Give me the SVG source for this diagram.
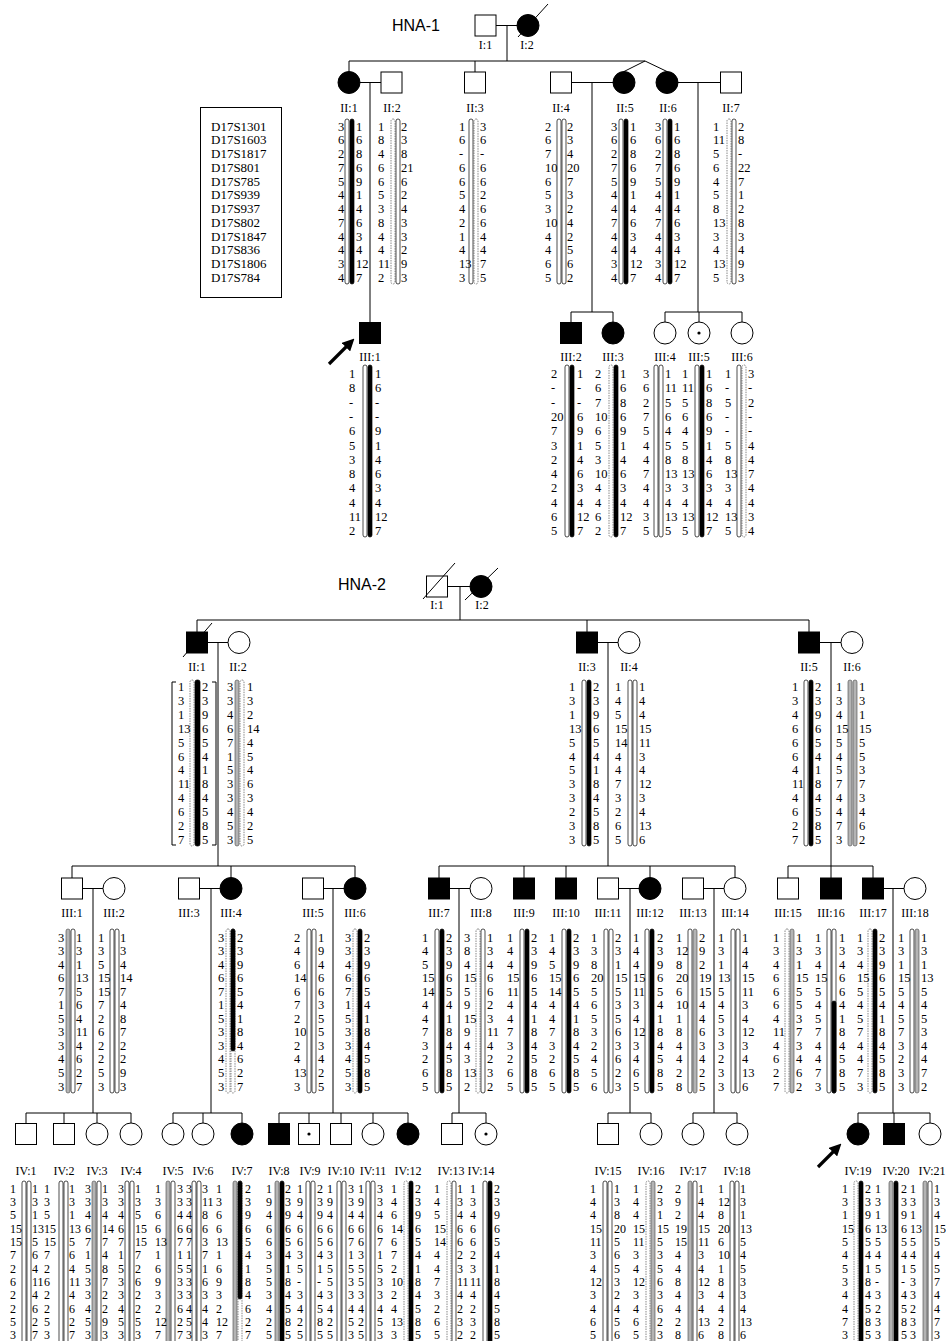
<svg xmlns="http://www.w3.org/2000/svg" width="946" height="1341" viewBox="0 0 946 1341">
<defs>
<style>
text{font-family:"Liberation Serif","Times New Roman",serif;font-size:12.5px;fill:#000}
g[id^="h2-IV"] text{font-size:12px}
.lb{font-size:12px;text-anchor:middle}
.mk{font-size:13px}
.t{font-family:"Liberation Sans",Arial,sans-serif;font-size:16px}
.ln{stroke:#000;stroke-width:1;fill:none}
.ar{stroke:#000;stroke-width:3.2;fill:none}
.o{fill:#fff;stroke:#000;stroke-width:1}
.f{fill:#000;stroke:#000;stroke-width:1}
.w{fill:#fff;stroke:#000;stroke-width:.7}
.b{fill:#000;stroke:#000;stroke-width:.7}
.g{fill:#b4b4b4;stroke:#444;stroke-width:.6}
.d{fill:#fff;stroke:#555;stroke-width:.7;stroke-dasharray:1.5 1}
</style>
<marker id="ah" viewBox="0 0 10 10" refX="6" refY="5" markerWidth="3.8" markerHeight="3.8" orient="auto"><path d="M0,0L10,5L0,10z" fill="#000"/></marker>
</defs>
<rect width="946" height="1341" fill="#fff"/>

<g id="connectors">
<path class="ln" d="M496,25.5H517M507,25.5V61M349,61H645M349,61V71.5M475,61V72M645,61L624,71.5M645,61L667,71.5M360,82.5H381M370,82.5V322.5M572,82.5H613M592,82.5V312M678,82.5H720.5M698,82.5V312M571,312H613M571,312V322.5M613,312V322M665,312H742M665,312V322M699,312V322M742,312V322"/>
<path class="ln" d="M448,586.5H470M460,586.5V620M197,620H809M197,620V632M587,620V632M809,620V632M207,642.5H228M218,642.5V866M597,642.5H618M608,642.5V866M820,642.5H841M831,642.5V866"/>
<path class="ln" d="M72,866H355M72,866V878M231,866V877.5M355,866V877.5M439,866H735M439,866V878M524,866V878M566,866V878M650,866V877.5M735,866V877.5M788,866H873M788,866V878M831,866V878M873,866V878"/>
<path class="ln" d="M82.5,888.5H103M199.5,888.5H220M323.5,888.5H344M449.5,888.5H470M618.5,888.5H639M703.5,888.5H724M883.5,888.5H904M93,888.5V1113M211,888.5V1113M333,888.5V1113M459,888.5V1113M630,888.5V1113M714,888.5V1113M893,888.5V1113"/>
<path class="ln" d="M26,1113H131M173,1113H242M279,1113H408M452,1113H486M608,1113H651M693,1113H737M858,1113H930M26,1113V1123.5M64,1113V1123.5M97,1113V1123M131,1113V1123M173,1113V1123M203,1113V1123M242,1113V1123M279,1113V1123.5M309,1113V1123.5M341,1113V1123.5M373,1113V1123M408,1113V1123M452,1113V1123.5M486,1113V1123M608,1113V1123.5M651,1113V1123M693,1113V1123M737,1113V1123M858,1113V1123M894,1113V1123.5M930,1113V1123"/>
<path class="ar" d="M329,364L351,342" marker-end="url(#ah)"/>
<path class="ar" d="M818,1167L838,1147" marker-end="url(#ah)"/>
</g>

<text class="t" x="392" y="31">HNA-1</text>
<text class="t" x="338" y="590">HNA-2</text>

<g id="legend">
<rect x="200.5" y="107.5" width="81" height="190" fill="#fff" stroke="#000" stroke-width="1"/>
<text class="mk" x="211" y="130.5">D17S1301<tspan x="211" dy="13.75">D17S1603</tspan><tspan x="211" dy="13.75">D17S1817</tspan><tspan x="211" dy="13.75">D17S801</tspan><tspan x="211" dy="13.75">D17S785</tspan><tspan x="211" dy="13.75">D17S939</tspan><tspan x="211" dy="13.75">D17S937</tspan><tspan x="211" dy="13.75">D17S802</tspan><tspan x="211" dy="13.75">D17S1847</tspan><tspan x="211" dy="13.75">D17S836</tspan><tspan x="211" dy="13.75">D17S1806</tspan><tspan x="211" dy="13.75">D17S784</tspan></text>
</g>

<!-- HNA-1 -->
<g id="h1-I1"><rect class="o" x="475" y="15" width="21" height="21"/><text class="lb" x="485.5" y="49">I:1</text></g>
<g id="h1-I2"><circle class="f" cx="528" cy="25.5" r="11"/><path class="ln" d="M518,37L548,4"/><text class="lb" x="527" y="49">I:2</text></g>

<g id="h1-II1"><circle class="f" cx="349" cy="82.5" r="11"/><text class="lb" x="349" y="112">II:1</text>
<rect class="w" x="345" y="119" width="4" height="165" rx="2"/><rect class="b" x="350" y="119" width="4" height="165" rx="2"/>
<text x="338" y="130.5">3<tspan x="338" dy="13.75">6</tspan><tspan x="338" dy="13.75">2</tspan><tspan x="338" dy="13.75">7</tspan><tspan x="338" dy="13.75">5</tspan><tspan x="338" dy="13.75">4</tspan><tspan x="338" dy="13.75">4</tspan><tspan x="338" dy="13.75">7</tspan><tspan x="338" dy="13.75">4</tspan><tspan x="338" dy="13.75">4</tspan><tspan x="338" dy="13.75">3</tspan><tspan x="338" dy="13.75">4</tspan></text>
<text x="356" y="130.5">1<tspan x="356" dy="13.75">6</tspan><tspan x="356" dy="13.75">8</tspan><tspan x="356" dy="13.75">6</tspan><tspan x="356" dy="13.75">9</tspan><tspan x="356" dy="13.75">1</tspan><tspan x="356" dy="13.75">4</tspan><tspan x="356" dy="13.75">6</tspan><tspan x="356" dy="13.75">3</tspan><tspan x="356" dy="13.75">4</tspan><tspan x="356" dy="13.75">12</tspan><tspan x="356" dy="13.75">7</tspan></text></g>

<g id="h1-II2"><rect class="o" x="381" y="72" width="21" height="21"/><text class="lb" x="392" y="112">II:2</text>
<rect class="d" x="391" y="119" width="4" height="165" rx="2"/><rect class="w" x="396" y="119" width="4" height="165" rx="2"/>
<text x="378" y="130.5">1<tspan x="378" dy="13.75">8</tspan><tspan x="378" dy="13.75">4</tspan><tspan x="378" dy="13.75">6</tspan><tspan x="378" dy="13.75">6</tspan><tspan x="378" dy="13.75">5</tspan><tspan x="378" dy="13.75">3</tspan><tspan x="378" dy="13.75">8</tspan><tspan x="378" dy="13.75">4</tspan><tspan x="378" dy="13.75">4</tspan><tspan x="378" dy="13.75">11</tspan><tspan x="378" dy="13.75">2</tspan></text>
<text x="401" y="130.5">2<tspan x="401" dy="13.75">3</tspan><tspan x="401" dy="13.75">8</tspan><tspan x="401" dy="13.75">21</tspan><tspan x="401" dy="13.75">6</tspan><tspan x="401" dy="13.75">2</tspan><tspan x="401" dy="13.75">4</tspan><tspan x="401" dy="13.75">3</tspan><tspan x="401" dy="13.75">3</tspan><tspan x="401" dy="13.75">2</tspan><tspan x="401" dy="13.75">9</tspan><tspan x="401" dy="13.75">3</tspan></text></g>

<g id="h1-II3"><rect class="o" x="464.5" y="72" width="21" height="21"/><text class="lb" x="475" y="112">II:3</text>
<rect class="w" x="469" y="119" width="4" height="165" rx="2"/><rect class="d" x="474" y="119" width="4" height="165" rx="2"/>
<text x="459" y="130.5">1<tspan x="459" dy="13.75">6</tspan><tspan x="459" dy="13.75">-</tspan><tspan x="459" dy="13.75">6</tspan><tspan x="459" dy="13.75">6</tspan><tspan x="459" dy="13.75">5</tspan><tspan x="459" dy="13.75">4</tspan><tspan x="459" dy="13.75">2</tspan><tspan x="459" dy="13.75">1</tspan><tspan x="459" dy="13.75">4</tspan><tspan x="459" dy="13.75">13</tspan><tspan x="459" dy="13.75">3</tspan></text>
<text x="480" y="130.5">3<tspan x="480" dy="13.75">6</tspan><tspan x="480" dy="13.75">-</tspan><tspan x="480" dy="13.75">6</tspan><tspan x="480" dy="13.75">6</tspan><tspan x="480" dy="13.75">2</tspan><tspan x="480" dy="13.75">6</tspan><tspan x="480" dy="13.75">6</tspan><tspan x="480" dy="13.75">4</tspan><tspan x="480" dy="13.75">4</tspan><tspan x="480" dy="13.75">7</tspan><tspan x="480" dy="13.75">5</tspan></text></g>

<g id="h1-II4"><rect class="o" x="550.5" y="72" width="21" height="21"/><text class="lb" x="561" y="112">II:4</text>
<rect class="w" x="557" y="119" width="4" height="165" rx="2"/><rect class="w" x="562" y="119" width="4" height="165" rx="2"/>
<text x="545" y="130.5">2<tspan x="545" dy="13.75">6</tspan><tspan x="545" dy="13.75">7</tspan><tspan x="545" dy="13.75">10</tspan><tspan x="545" dy="13.75">6</tspan><tspan x="545" dy="13.75">5</tspan><tspan x="545" dy="13.75">3</tspan><tspan x="545" dy="13.75">10</tspan><tspan x="545" dy="13.75">4</tspan><tspan x="545" dy="13.75">4</tspan><tspan x="545" dy="13.75">6</tspan><tspan x="545" dy="13.75">5</tspan></text>
<text x="567" y="130.5">2<tspan x="567" dy="13.75">3</tspan><tspan x="567" dy="13.75">4</tspan><tspan x="567" dy="13.75">20</tspan><tspan x="567" dy="13.75">7</tspan><tspan x="567" dy="13.75">3</tspan><tspan x="567" dy="13.75">2</tspan><tspan x="567" dy="13.75">4</tspan><tspan x="567" dy="13.75">2</tspan><tspan x="567" dy="13.75">5</tspan><tspan x="567" dy="13.75">6</tspan><tspan x="567" dy="13.75">2</tspan></text></g>

<g id="h1-II5"><circle class="f" cx="624" cy="82.5" r="11"/><text class="lb" x="625" y="112">II:5</text>
<rect class="w" x="619" y="119" width="4" height="165" rx="2"/><rect class="b" x="624" y="119" width="4" height="165" rx="2"/>
<text x="611" y="130.5">3<tspan x="611" dy="13.75">6</tspan><tspan x="611" dy="13.75">2</tspan><tspan x="611" dy="13.75">7</tspan><tspan x="611" dy="13.75">5</tspan><tspan x="611" dy="13.75">4</tspan><tspan x="611" dy="13.75">4</tspan><tspan x="611" dy="13.75">7</tspan><tspan x="611" dy="13.75">4</tspan><tspan x="611" dy="13.75">4</tspan><tspan x="611" dy="13.75">3</tspan><tspan x="611" dy="13.75">4</tspan></text>
<text x="630" y="130.5">1<tspan x="630" dy="13.75">6</tspan><tspan x="630" dy="13.75">8</tspan><tspan x="630" dy="13.75">6</tspan><tspan x="630" dy="13.75">9</tspan><tspan x="630" dy="13.75">1</tspan><tspan x="630" dy="13.75">4</tspan><tspan x="630" dy="13.75">6</tspan><tspan x="630" dy="13.75">3</tspan><tspan x="630" dy="13.75">4</tspan><tspan x="630" dy="13.75">12</tspan><tspan x="630" dy="13.75">7</tspan></text></g>

<g id="h1-II6"><circle class="f" cx="667" cy="82.5" r="11"/><text class="lb" x="668" y="112">II:6</text>
<rect class="w" x="663" y="119" width="4" height="165" rx="2"/><rect class="b" x="668" y="119" width="4" height="165" rx="2"/>
<text x="655" y="130.5">3<tspan x="655" dy="13.75">6</tspan><tspan x="655" dy="13.75">2</tspan><tspan x="655" dy="13.75">7</tspan><tspan x="655" dy="13.75">5</tspan><tspan x="655" dy="13.75">4</tspan><tspan x="655" dy="13.75">4</tspan><tspan x="655" dy="13.75">7</tspan><tspan x="655" dy="13.75">4</tspan><tspan x="655" dy="13.75">4</tspan><tspan x="655" dy="13.75">3</tspan><tspan x="655" dy="13.75">4</tspan></text>
<text x="674" y="130.5">1<tspan x="674" dy="13.75">6</tspan><tspan x="674" dy="13.75">8</tspan><tspan x="674" dy="13.75">6</tspan><tspan x="674" dy="13.75">9</tspan><tspan x="674" dy="13.75">1</tspan><tspan x="674" dy="13.75">4</tspan><tspan x="674" dy="13.75">6</tspan><tspan x="674" dy="13.75">3</tspan><tspan x="674" dy="13.75">4</tspan><tspan x="674" dy="13.75">12</tspan><tspan x="674" dy="13.75">7</tspan></text></g>

<g id="h1-II7"><rect class="o" x="720.5" y="72" width="21" height="21"/><text class="lb" x="731" y="112">II:7</text>
<rect class="d" x="727" y="119" width="4" height="165" rx="2"/><rect class="w" x="732" y="119" width="4" height="165" rx="2"/>
<text x="713" y="130.5">1<tspan x="713" dy="13.75">11</tspan><tspan x="713" dy="13.75">5</tspan><tspan x="713" dy="13.75">6</tspan><tspan x="713" dy="13.75">4</tspan><tspan x="713" dy="13.75">5</tspan><tspan x="713" dy="13.75">8</tspan><tspan x="713" dy="13.75">13</tspan><tspan x="713" dy="13.75">3</tspan><tspan x="713" dy="13.75">4</tspan><tspan x="713" dy="13.75">13</tspan><tspan x="713" dy="13.75">5</tspan></text>
<text x="738" y="130.5">2<tspan x="738" dy="13.75">8</tspan><tspan x="738" dy="13.75">-</tspan><tspan x="738" dy="13.75">22</tspan><tspan x="738" dy="13.75">7</tspan><tspan x="738" dy="13.75">1</tspan><tspan x="738" dy="13.75">2</tspan><tspan x="738" dy="13.75">8</tspan><tspan x="738" dy="13.75">3</tspan><tspan x="738" dy="13.75">4</tspan><tspan x="738" dy="13.75">9</tspan><tspan x="738" dy="13.75">3</tspan></text></g>

<g id="h1-III1"><rect class="f" x="359.5" y="322.5" width="21" height="21"/><text class="lb" x="370" y="361">III:1</text>
<rect class="w" x="363" y="365" width="4" height="172" rx="2"/><rect class="b" x="368" y="365" width="4" height="172" rx="2"/>
<text x="349" y="378">1<tspan x="349" dy="14.3">8</tspan><tspan x="349" dy="14.3">-</tspan><tspan x="349" dy="14.3">-</tspan><tspan x="349" dy="14.3">6</tspan><tspan x="349" dy="14.3">5</tspan><tspan x="349" dy="14.3">3</tspan><tspan x="349" dy="14.3">8</tspan><tspan x="349" dy="14.3">4</tspan><tspan x="349" dy="14.3">4</tspan><tspan x="349" dy="14.3">11</tspan><tspan x="349" dy="14.3">2</tspan></text>
<text x="375" y="378">1<tspan x="375" dy="14.3">6</tspan><tspan x="375" dy="14.3">-</tspan><tspan x="375" dy="14.3">-</tspan><tspan x="375" dy="14.3">9</tspan><tspan x="375" dy="14.3">1</tspan><tspan x="375" dy="14.3">4</tspan><tspan x="375" dy="14.3">6</tspan><tspan x="375" dy="14.3">3</tspan><tspan x="375" dy="14.3">4</tspan><tspan x="375" dy="14.3">12</tspan><tspan x="375" dy="14.3">7</tspan></text></g>

<g id="h1-III2"><rect class="f" x="560.5" y="322.5" width="21" height="21"/><text class="lb" x="571" y="361">III:2</text>
<rect class="w" x="565" y="365" width="4" height="172" rx="2"/><rect class="b" x="570" y="365" width="4" height="172" rx="2"/>
<text x="551" y="378">2<tspan x="551" dy="14.3">-</tspan><tspan x="551" dy="14.3">-</tspan><tspan x="551" dy="14.3">20</tspan><tspan x="551" dy="14.3">7</tspan><tspan x="551" dy="14.3">3</tspan><tspan x="551" dy="14.3">2</tspan><tspan x="551" dy="14.3">4</tspan><tspan x="551" dy="14.3">2</tspan><tspan x="551" dy="14.3">4</tspan><tspan x="551" dy="14.3">6</tspan><tspan x="551" dy="14.3">5</tspan></text>
<text x="577" y="378">1<tspan x="577" dy="14.3">-</tspan><tspan x="577" dy="14.3">-</tspan><tspan x="577" dy="14.3">6</tspan><tspan x="577" dy="14.3">9</tspan><tspan x="577" dy="14.3">1</tspan><tspan x="577" dy="14.3">4</tspan><tspan x="577" dy="14.3">6</tspan><tspan x="577" dy="14.3">3</tspan><tspan x="577" dy="14.3">4</tspan><tspan x="577" dy="14.3">12</tspan><tspan x="577" dy="14.3">7</tspan></text></g>

<g id="h1-III3"><circle class="f" cx="613" cy="333" r="11"/><text class="lb" x="613" y="361">III:3</text>
<rect class="d" x="609" y="365" width="4" height="172" rx="2"/><rect class="b" x="614" y="365" width="4" height="172" rx="2"/>
<text x="595" y="378">2<tspan x="595" dy="14.3">6</tspan><tspan x="595" dy="14.3">7</tspan><tspan x="595" dy="14.3">10</tspan><tspan x="595" dy="14.3">6</tspan><tspan x="595" dy="14.3">5</tspan><tspan x="595" dy="14.3">3</tspan><tspan x="595" dy="14.3">10</tspan><tspan x="595" dy="14.3">4</tspan><tspan x="595" dy="14.3">4</tspan><tspan x="595" dy="14.3">6</tspan><tspan x="595" dy="14.3">2</tspan></text>
<text x="620" y="378">1<tspan x="620" dy="14.3">6</tspan><tspan x="620" dy="14.3">8</tspan><tspan x="620" dy="14.3">6</tspan><tspan x="620" dy="14.3">9</tspan><tspan x="620" dy="14.3">1</tspan><tspan x="620" dy="14.3">4</tspan><tspan x="620" dy="14.3">6</tspan><tspan x="620" dy="14.3">3</tspan><tspan x="620" dy="14.3">4</tspan><tspan x="620" dy="14.3">12</tspan><tspan x="620" dy="14.3">7</tspan></text></g>

<g id="h1-III4"><circle class="o" cx="665" cy="333" r="11"/><text class="lb" x="665" y="361">III:4</text>
<rect class="w" x="654" y="365" width="4" height="172" rx="2"/><rect class="w" x="659" y="365" width="4" height="172" rx="2"/>
<text x="643" y="378">3<tspan x="643" dy="14.3">6</tspan><tspan x="643" dy="14.3">2</tspan><tspan x="643" dy="14.3">7</tspan><tspan x="643" dy="14.3">5</tspan><tspan x="643" dy="14.3">4</tspan><tspan x="643" dy="14.3">4</tspan><tspan x="643" dy="14.3">7</tspan><tspan x="643" dy="14.3">4</tspan><tspan x="643" dy="14.3">4</tspan><tspan x="643" dy="14.3">3</tspan><tspan x="643" dy="14.3">5</tspan></text>
<text x="665" y="378">1<tspan x="665" dy="14.3">11</tspan><tspan x="665" dy="14.3">5</tspan><tspan x="665" dy="14.3">6</tspan><tspan x="665" dy="14.3">4</tspan><tspan x="665" dy="14.3">5</tspan><tspan x="665" dy="14.3">8</tspan><tspan x="665" dy="14.3">13</tspan><tspan x="665" dy="14.3">3</tspan><tspan x="665" dy="14.3">4</tspan><tspan x="665" dy="14.3">13</tspan><tspan x="665" dy="14.3">5</tspan></text></g>

<g id="h1-III5"><circle class="o" cx="699" cy="333" r="11"/><circle cx="699" cy="333" r="1.6"/><text class="lb" x="699" y="361">III:5</text>
<rect class="w" x="695" y="365" width="4" height="172" rx="2"/><rect class="b" x="700" y="365" width="4" height="172" rx="2"/>
<text x="682" y="378">1<tspan x="682" dy="14.3">11</tspan><tspan x="682" dy="14.3">5</tspan><tspan x="682" dy="14.3">6</tspan><tspan x="682" dy="14.3">4</tspan><tspan x="682" dy="14.3">5</tspan><tspan x="682" dy="14.3">8</tspan><tspan x="682" dy="14.3">13</tspan><tspan x="682" dy="14.3">3</tspan><tspan x="682" dy="14.3">4</tspan><tspan x="682" dy="14.3">13</tspan><tspan x="682" dy="14.3">5</tspan></text>
<text x="706" y="378">1<tspan x="706" dy="14.3">6</tspan><tspan x="706" dy="14.3">8</tspan><tspan x="706" dy="14.3">6</tspan><tspan x="706" dy="14.3">9</tspan><tspan x="706" dy="14.3">1</tspan><tspan x="706" dy="14.3">4</tspan><tspan x="706" dy="14.3">6</tspan><tspan x="706" dy="14.3">3</tspan><tspan x="706" dy="14.3">4</tspan><tspan x="706" dy="14.3">12</tspan><tspan x="706" dy="14.3">7</tspan></text></g>

<g id="h1-III6"><circle class="o" cx="742" cy="333" r="11"/><text class="lb" x="742" y="361">III:6</text>
<rect class="w" x="737" y="365" width="4" height="172" rx="2"/><rect class="d" x="742" y="365" width="4" height="172" rx="2"/>
<text x="725" y="378">1<tspan x="725" dy="14.3">-</tspan><tspan x="725" dy="14.3">5</tspan><tspan x="725" dy="14.3">-</tspan><tspan x="725" dy="14.3">-</tspan><tspan x="725" dy="14.3">5</tspan><tspan x="725" dy="14.3">8</tspan><tspan x="725" dy="14.3">13</tspan><tspan x="725" dy="14.3">3</tspan><tspan x="725" dy="14.3">4</tspan><tspan x="725" dy="14.3">13</tspan><tspan x="725" dy="14.3">5</tspan></text>
<text x="748" y="378">3<tspan x="748" dy="14.3">-</tspan><tspan x="748" dy="14.3">2</tspan><tspan x="748" dy="14.3">-</tspan><tspan x="748" dy="14.3">-</tspan><tspan x="748" dy="14.3">4</tspan><tspan x="748" dy="14.3">4</tspan><tspan x="748" dy="14.3">7</tspan><tspan x="748" dy="14.3">4</tspan><tspan x="748" dy="14.3">4</tspan><tspan x="748" dy="14.3">3</tspan><tspan x="748" dy="14.3">4</tspan></text></g>

<!-- HNA-2 -->
<g id="h2-I1"><rect class="o" x="426.5" y="576" width="21" height="21"/><path class="ln" d="M423,599L455,563"/><text class="lb" x="437" y="609">I:1</text></g>
<g id="h2-I2"><circle class="f" cx="481" cy="586.5" r="11"/><path class="ln" d="M465,600L498,568"/><text class="lb" x="482" y="609">I:2</text></g>

<g id="h2-II1"><rect class="f" x="186.5" y="632" width="21" height="21"/><path class="ln" d="M183,657L212,623"/><text class="lb" x="197" y="671">II:1</text>
<path class="ln" d="M176,682H172V845H176M212,682H216V845H212"/>
<rect class="d" x="190" y="680" width="4" height="166" rx="2"/><rect class="b" x="195" y="680" width="5" height="166" rx="2"/>
<text x="178" y="691">1<tspan x="178" dy="13.9">3</tspan><tspan x="178" dy="13.9">1</tspan><tspan x="178" dy="13.9">13</tspan><tspan x="178" dy="13.9">5</tspan><tspan x="178" dy="13.9">6</tspan><tspan x="178" dy="13.9">4</tspan><tspan x="178" dy="13.9">11</tspan><tspan x="178" dy="13.9">4</tspan><tspan x="178" dy="13.9">6</tspan><tspan x="178" dy="13.9">2</tspan><tspan x="178" dy="13.9">7</tspan></text>
<text x="202" y="691">2<tspan x="202" dy="13.9">3</tspan><tspan x="202" dy="13.9">9</tspan><tspan x="202" dy="13.9">6</tspan><tspan x="202" dy="13.9">5</tspan><tspan x="202" dy="13.9">4</tspan><tspan x="202" dy="13.9">1</tspan><tspan x="202" dy="13.9">8</tspan><tspan x="202" dy="13.9">4</tspan><tspan x="202" dy="13.9">5</tspan><tspan x="202" dy="13.9">8</tspan><tspan x="202" dy="13.9">5</tspan></text></g>

<g id="h2-II2"><circle class="o" cx="239" cy="642.5" r="11"/><text class="lb" x="238" y="671">II:2</text>
<rect class="g" x="235" y="680" width="4" height="166" rx="2"/><rect class="d" x="240" y="680" width="4" height="166" rx="2"/>
<text x="227" y="691">3<tspan x="227" dy="13.9">3</tspan><tspan x="227" dy="13.9">4</tspan><tspan x="227" dy="13.9">6</tspan><tspan x="227" dy="13.9">7</tspan><tspan x="227" dy="13.9">1</tspan><tspan x="227" dy="13.9">5</tspan><tspan x="227" dy="13.9">3</tspan><tspan x="227" dy="13.9">3</tspan><tspan x="227" dy="13.9">4</tspan><tspan x="227" dy="13.9">5</tspan><tspan x="227" dy="13.9">3</tspan></text>
<text x="247" y="691">1<tspan x="247" dy="13.9">3</tspan><tspan x="247" dy="13.9">2</tspan><tspan x="247" dy="13.9">14</tspan><tspan x="247" dy="13.9">4</tspan><tspan x="247" dy="13.9">5</tspan><tspan x="247" dy="13.9">4</tspan><tspan x="247" dy="13.9">6</tspan><tspan x="247" dy="13.9">3</tspan><tspan x="247" dy="13.9">4</tspan><tspan x="247" dy="13.9">2</tspan><tspan x="247" dy="13.9">5</tspan></text></g>

<g id="h2-II3"><rect class="f" x="576.5" y="632" width="21" height="21"/><text class="lb" x="587" y="671">II:3</text>
<rect class="w" x="582" y="680" width="4" height="166" rx="2"/><rect class="b" x="587" y="680" width="4" height="166" rx="2"/>
<text x="569" y="691">1<tspan x="569" dy="13.9">3</tspan><tspan x="569" dy="13.9">1</tspan><tspan x="569" dy="13.9">13</tspan><tspan x="569" dy="13.9">5</tspan><tspan x="569" dy="13.9">4</tspan><tspan x="569" dy="13.9">5</tspan><tspan x="569" dy="13.9">3</tspan><tspan x="569" dy="13.9">3</tspan><tspan x="569" dy="13.9">2</tspan><tspan x="569" dy="13.9">3</tspan><tspan x="569" dy="13.9">3</tspan></text>
<text x="593" y="691">2<tspan x="593" dy="13.9">3</tspan><tspan x="593" dy="13.9">9</tspan><tspan x="593" dy="13.9">6</tspan><tspan x="593" dy="13.9">5</tspan><tspan x="593" dy="13.9">4</tspan><tspan x="593" dy="13.9">1</tspan><tspan x="593" dy="13.9">8</tspan><tspan x="593" dy="13.9">4</tspan><tspan x="593" dy="13.9">5</tspan><tspan x="593" dy="13.9">8</tspan><tspan x="593" dy="13.9">5</tspan></text></g>

<g id="h2-II4"><circle class="o" cx="629" cy="642.5" r="11"/><text class="lb" x="629" y="671">II:4</text>
<rect class="w" x="628" y="680" width="4" height="166" rx="2"/><rect class="w" x="633" y="680" width="4" height="166" rx="2"/>
<text x="615" y="691">1<tspan x="615" dy="13.9">4</tspan><tspan x="615" dy="13.9">5</tspan><tspan x="615" dy="13.9">15</tspan><tspan x="615" dy="13.9">14</tspan><tspan x="615" dy="13.9">4</tspan><tspan x="615" dy="13.9">4</tspan><tspan x="615" dy="13.9">7</tspan><tspan x="615" dy="13.9">3</tspan><tspan x="615" dy="13.9">2</tspan><tspan x="615" dy="13.9">6</tspan><tspan x="615" dy="13.9">5</tspan></text>
<text x="639" y="691">1<tspan x="639" dy="13.9">4</tspan><tspan x="639" dy="13.9">4</tspan><tspan x="639" dy="13.9">15</tspan><tspan x="639" dy="13.9">11</tspan><tspan x="639" dy="13.9">3</tspan><tspan x="639" dy="13.9">4</tspan><tspan x="639" dy="13.9">12</tspan><tspan x="639" dy="13.9">3</tspan><tspan x="639" dy="13.9">4</tspan><tspan x="639" dy="13.9">13</tspan><tspan x="639" dy="13.9">6</tspan></text></g>

<g id="h2-II5"><rect class="f" x="798.5" y="632" width="21" height="21"/><text class="lb" x="809" y="671">II:5</text>
<rect class="w" x="804" y="680" width="4" height="166" rx="2"/><rect class="b" x="809" y="680" width="4" height="166" rx="2"/>
<text x="792" y="691">1<tspan x="792" dy="13.9">3</tspan><tspan x="792" dy="13.9">4</tspan><tspan x="792" dy="13.9">6</tspan><tspan x="792" dy="13.9">6</tspan><tspan x="792" dy="13.9">6</tspan><tspan x="792" dy="13.9">4</tspan><tspan x="792" dy="13.9">11</tspan><tspan x="792" dy="13.9">4</tspan><tspan x="792" dy="13.9">6</tspan><tspan x="792" dy="13.9">2</tspan><tspan x="792" dy="13.9">7</tspan></text>
<text x="815" y="691">2<tspan x="815" dy="13.9">3</tspan><tspan x="815" dy="13.9">9</tspan><tspan x="815" dy="13.9">6</tspan><tspan x="815" dy="13.9">5</tspan><tspan x="815" dy="13.9">4</tspan><tspan x="815" dy="13.9">1</tspan><tspan x="815" dy="13.9">8</tspan><tspan x="815" dy="13.9">4</tspan><tspan x="815" dy="13.9">5</tspan><tspan x="815" dy="13.9">8</tspan><tspan x="815" dy="13.9">5</tspan></text></g>

<g id="h2-II6"><circle class="o" cx="852" cy="642.5" r="11"/><text class="lb" x="852" y="671">II:6</text>
<rect class="g" x="848" y="680" width="4" height="166" rx="2"/><rect class="g" x="853" y="680" width="4" height="166" rx="2"/>
<text x="836" y="691">1<tspan x="836" dy="13.9">3</tspan><tspan x="836" dy="13.9">4</tspan><tspan x="836" dy="13.9">15</tspan><tspan x="836" dy="13.9">5</tspan><tspan x="836" dy="13.9">4</tspan><tspan x="836" dy="13.9">5</tspan><tspan x="836" dy="13.9">7</tspan><tspan x="836" dy="13.9">4</tspan><tspan x="836" dy="13.9">4</tspan><tspan x="836" dy="13.9">7</tspan><tspan x="836" dy="13.9">3</tspan></text>
<text x="859" y="691">1<tspan x="859" dy="13.9">3</tspan><tspan x="859" dy="13.9">1</tspan><tspan x="859" dy="13.9">15</tspan><tspan x="859" dy="13.9">5</tspan><tspan x="859" dy="13.9">5</tspan><tspan x="859" dy="13.9">3</tspan><tspan x="859" dy="13.9">7</tspan><tspan x="859" dy="13.9">3</tspan><tspan x="859" dy="13.9">4</tspan><tspan x="859" dy="13.9">6</tspan><tspan x="859" dy="13.9">2</tspan></text></g>

<!-- HNA-2 generation III -->
<g id="h2-III1"><rect class="o" x="61.5" y="878" width="21" height="21"/><text class="lb" x="72" y="917">III:1</text>
<rect class="g" x="66" y="929" width="4" height="164" rx="2"/><rect class="w" x="71" y="929" width="4" height="164" rx="2"/>
<text x="58" y="941.5">3<tspan x="58" dy="13.55">3</tspan><tspan x="58" dy="13.55">4</tspan><tspan x="58" dy="13.55">6</tspan><tspan x="58" dy="13.55">7</tspan><tspan x="58" dy="13.55">1</tspan><tspan x="58" dy="13.55">5</tspan><tspan x="58" dy="13.55">3</tspan><tspan x="58" dy="13.55">3</tspan><tspan x="58" dy="13.55">4</tspan><tspan x="58" dy="13.55">5</tspan><tspan x="58" dy="13.55">3</tspan></text>
<text x="76" y="941.5">1<tspan x="76" dy="13.55">3</tspan><tspan x="76" dy="13.55">1</tspan><tspan x="76" dy="13.55">13</tspan><tspan x="76" dy="13.55">5</tspan><tspan x="76" dy="13.55">6</tspan><tspan x="76" dy="13.55">4</tspan><tspan x="76" dy="13.55">11</tspan><tspan x="76" dy="13.55">4</tspan><tspan x="76" dy="13.55">6</tspan><tspan x="76" dy="13.55">2</tspan><tspan x="76" dy="13.55">7</tspan></text></g>

<g id="h2-III2"><circle class="o" cx="114" cy="888.5" r="11"/><text class="lb" x="114" y="917">III:2</text>
<rect class="w" x="110" y="929" width="4" height="164" rx="2"/><rect class="w" x="115" y="929" width="4" height="164" rx="2"/>
<text x="98" y="941.5">1<tspan x="98" dy="13.55">3</tspan><tspan x="98" dy="13.55">5</tspan><tspan x="98" dy="13.55">15</tspan><tspan x="98" dy="13.55">15</tspan><tspan x="98" dy="13.55">7</tspan><tspan x="98" dy="13.55">2</tspan><tspan x="98" dy="13.55">6</tspan><tspan x="98" dy="13.55">2</tspan><tspan x="98" dy="13.55">2</tspan><tspan x="98" dy="13.55">5</tspan><tspan x="98" dy="13.55">3</tspan></text>
<text x="120" y="941.5">1<tspan x="120" dy="13.55">3</tspan><tspan x="120" dy="13.55">4</tspan><tspan x="120" dy="13.55">14</tspan><tspan x="120" dy="13.55">7</tspan><tspan x="120" dy="13.55">4</tspan><tspan x="120" dy="13.55">8</tspan><tspan x="120" dy="13.55">7</tspan><tspan x="120" dy="13.55">2</tspan><tspan x="120" dy="13.55">2</tspan><tspan x="120" dy="13.55">9</tspan><tspan x="120" dy="13.55">3</tspan></text></g>

<g id="h2-III3"><rect class="o" x="178.5" y="878" width="21" height="21"/><text class="lb" x="189" y="917">III:3</text></g>

<g id="h2-III4"><circle class="f" cx="231" cy="888.5" r="11"/><text class="lb" x="231" y="917">III:4</text>
<rect class="d" x="226" y="929" width="4" height="164" rx="2"/><rect class="d" x="231" y="929" width="4" height="164" rx="2"/><rect class="b" x="231" y="929" width="4" height="122" rx="2"/>
<text x="218" y="941.5">3<tspan x="218" dy="13.55">3</tspan><tspan x="218" dy="13.55">4</tspan><tspan x="218" dy="13.55">6</tspan><tspan x="218" dy="13.55">7</tspan><tspan x="218" dy="13.55">1</tspan><tspan x="218" dy="13.55">5</tspan><tspan x="218" dy="13.55">3</tspan><tspan x="218" dy="13.55">3</tspan><tspan x="218" dy="13.55">4</tspan><tspan x="218" dy="13.55">5</tspan><tspan x="218" dy="13.55">3</tspan></text>
<text x="237" y="941.5">2<tspan x="237" dy="13.55">3</tspan><tspan x="237" dy="13.55">9</tspan><tspan x="237" dy="13.55">6</tspan><tspan x="237" dy="13.55">5</tspan><tspan x="237" dy="13.55">4</tspan><tspan x="237" dy="13.55">1</tspan><tspan x="237" dy="13.55">8</tspan><tspan x="237" dy="13.55">4</tspan><tspan x="237" dy="13.55">6</tspan><tspan x="237" dy="13.55">2</tspan><tspan x="237" dy="13.55">7</tspan></text></g>

<g id="h2-III5"><rect class="o" x="302.5" y="878" width="21" height="21"/><text class="lb" x="313" y="917">III:5</text>
<rect class="w" x="307" y="929" width="4" height="164" rx="2"/><rect class="w" x="312" y="929" width="4" height="164" rx="2"/>
<text x="294" y="941.5">2<tspan x="294" dy="13.55">4</tspan><tspan x="294" dy="13.55">6</tspan><tspan x="294" dy="13.55">14</tspan><tspan x="294" dy="13.55">6</tspan><tspan x="294" dy="13.55">7</tspan><tspan x="294" dy="13.55">2</tspan><tspan x="294" dy="13.55">10</tspan><tspan x="294" dy="13.55">2</tspan><tspan x="294" dy="13.55">4</tspan><tspan x="294" dy="13.55">13</tspan><tspan x="294" dy="13.55">3</tspan></text>
<text x="318" y="941.5">1<tspan x="318" dy="13.55">9</tspan><tspan x="318" dy="13.55">4</tspan><tspan x="318" dy="13.55">6</tspan><tspan x="318" dy="13.55">6</tspan><tspan x="318" dy="13.55">3</tspan><tspan x="318" dy="13.55">5</tspan><tspan x="318" dy="13.55">5</tspan><tspan x="318" dy="13.55">3</tspan><tspan x="318" dy="13.55">4</tspan><tspan x="318" dy="13.55">2</tspan><tspan x="318" dy="13.55">5</tspan></text></g>

<g id="h2-III6"><circle class="f" cx="355" cy="888.5" r="11"/><text class="lb" x="355" y="917">III:6</text>
<rect class="d" x="353" y="929" width="4" height="164" rx="2"/><rect class="b" x="358" y="929" width="4" height="164" rx="2"/>
<text x="345" y="941.5">3<tspan x="345" dy="13.55">3</tspan><tspan x="345" dy="13.55">4</tspan><tspan x="345" dy="13.55">6</tspan><tspan x="345" dy="13.55">7</tspan><tspan x="345" dy="13.55">1</tspan><tspan x="345" dy="13.55">5</tspan><tspan x="345" dy="13.55">3</tspan><tspan x="345" dy="13.55">3</tspan><tspan x="345" dy="13.55">4</tspan><tspan x="345" dy="13.55">5</tspan><tspan x="345" dy="13.55">3</tspan></text>
<text x="364" y="941.5">2<tspan x="364" dy="13.55">3</tspan><tspan x="364" dy="13.55">9</tspan><tspan x="364" dy="13.55">6</tspan><tspan x="364" dy="13.55">5</tspan><tspan x="364" dy="13.55">4</tspan><tspan x="364" dy="13.55">1</tspan><tspan x="364" dy="13.55">8</tspan><tspan x="364" dy="13.55">4</tspan><tspan x="364" dy="13.55">5</tspan><tspan x="364" dy="13.55">8</tspan><tspan x="364" dy="13.55">5</tspan></text></g>

<g id="h2-III7"><rect class="f" x="428.5" y="878" width="21" height="21"/><text class="lb" x="439" y="917">III:7</text>
<rect class="w" x="435" y="929" width="4" height="164" rx="2"/><rect class="b" x="440" y="929" width="4" height="164" rx="2"/>
<text x="422" y="941.5">1<tspan x="422" dy="13.55">4</tspan><tspan x="422" dy="13.55">5</tspan><tspan x="422" dy="13.55">15</tspan><tspan x="422" dy="13.55">14</tspan><tspan x="422" dy="13.55">4</tspan><tspan x="422" dy="13.55">4</tspan><tspan x="422" dy="13.55">7</tspan><tspan x="422" dy="13.55">3</tspan><tspan x="422" dy="13.55">2</tspan><tspan x="422" dy="13.55">6</tspan><tspan x="422" dy="13.55">5</tspan></text>
<text x="446" y="941.5">2<tspan x="446" dy="13.55">3</tspan><tspan x="446" dy="13.55">9</tspan><tspan x="446" dy="13.55">6</tspan><tspan x="446" dy="13.55">5</tspan><tspan x="446" dy="13.55">4</tspan><tspan x="446" dy="13.55">1</tspan><tspan x="446" dy="13.55">8</tspan><tspan x="446" dy="13.55">4</tspan><tspan x="446" dy="13.55">5</tspan><tspan x="446" dy="13.55">8</tspan><tspan x="446" dy="13.55">5</tspan></text></g>

<g id="h2-III8"><circle class="o" cx="481" cy="888.5" r="11"/><text class="lb" x="481" y="917">III:8</text>
<rect class="d" x="476" y="929" width="4" height="164" rx="2"/><rect class="w" x="481" y="929" width="4" height="164" rx="2"/>
<text x="464" y="941.5">3<tspan x="464" dy="13.55">8</tspan><tspan x="464" dy="13.55">4</tspan><tspan x="464" dy="13.55">15</tspan><tspan x="464" dy="13.55">5</tspan><tspan x="464" dy="13.55">9</tspan><tspan x="464" dy="13.55">15</tspan><tspan x="464" dy="13.55">9</tspan><tspan x="464" dy="13.55">4</tspan><tspan x="464" dy="13.55">3</tspan><tspan x="464" dy="13.55">13</tspan><tspan x="464" dy="13.55">2</tspan></text>
<text x="487" y="941.5">1<tspan x="487" dy="13.55">3</tspan><tspan x="487" dy="13.55">4</tspan><tspan x="487" dy="13.55">6</tspan><tspan x="487" dy="13.55">6</tspan><tspan x="487" dy="13.55">2</tspan><tspan x="487" dy="13.55">3</tspan><tspan x="487" dy="13.55">11</tspan><tspan x="487" dy="13.55">4</tspan><tspan x="487" dy="13.55">2</tspan><tspan x="487" dy="13.55">3</tspan><tspan x="487" dy="13.55">2</tspan></text></g>

<g id="h2-III9"><rect class="f" x="513.5" y="878" width="21" height="21"/><text class="lb" x="524" y="917">III:9</text>
<rect class="w" x="520" y="929" width="4" height="164" rx="2"/><rect class="b" x="525" y="929" width="4" height="164" rx="2"/>
<text x="507" y="941.5">1<tspan x="507" dy="13.55">4</tspan><tspan x="507" dy="13.55">4</tspan><tspan x="507" dy="13.55">15</tspan><tspan x="507" dy="13.55">11</tspan><tspan x="507" dy="13.55">4</tspan><tspan x="507" dy="13.55">4</tspan><tspan x="507" dy="13.55">7</tspan><tspan x="507" dy="13.55">3</tspan><tspan x="507" dy="13.55">2</tspan><tspan x="507" dy="13.55">6</tspan><tspan x="507" dy="13.55">5</tspan></text>
<text x="531" y="941.5">2<tspan x="531" dy="13.55">3</tspan><tspan x="531" dy="13.55">9</tspan><tspan x="531" dy="13.55">6</tspan><tspan x="531" dy="13.55">5</tspan><tspan x="531" dy="13.55">4</tspan><tspan x="531" dy="13.55">1</tspan><tspan x="531" dy="13.55">8</tspan><tspan x="531" dy="13.55">4</tspan><tspan x="531" dy="13.55">5</tspan><tspan x="531" dy="13.55">8</tspan><tspan x="531" dy="13.55">5</tspan></text></g>

<g id="h2-III10"><rect class="f" x="555.5" y="878" width="21" height="21"/><text class="lb" x="566" y="917">III:10</text>
<rect class="w" x="562" y="929" width="4" height="164" rx="2"/><rect class="b" x="567" y="929" width="4" height="164" rx="2"/>
<text x="549" y="941.5">1<tspan x="549" dy="13.55">4</tspan><tspan x="549" dy="13.55">5</tspan><tspan x="549" dy="13.55">15</tspan><tspan x="549" dy="13.55">14</tspan><tspan x="549" dy="13.55">4</tspan><tspan x="549" dy="13.55">4</tspan><tspan x="549" dy="13.55">7</tspan><tspan x="549" dy="13.55">3</tspan><tspan x="549" dy="13.55">2</tspan><tspan x="549" dy="13.55">6</tspan><tspan x="549" dy="13.55">5</tspan></text>
<text x="573" y="941.5">2<tspan x="573" dy="13.55">3</tspan><tspan x="573" dy="13.55">9</tspan><tspan x="573" dy="13.55">6</tspan><tspan x="573" dy="13.55">5</tspan><tspan x="573" dy="13.55">4</tspan><tspan x="573" dy="13.55">1</tspan><tspan x="573" dy="13.55">8</tspan><tspan x="573" dy="13.55">4</tspan><tspan x="573" dy="13.55">5</tspan><tspan x="573" dy="13.55">8</tspan><tspan x="573" dy="13.55">5</tspan></text></g>

<g id="h2-III11"><rect class="o" x="597.5" y="878" width="21" height="21"/><text class="lb" x="608" y="917">III:11</text>
<rect class="w" x="604" y="929" width="4" height="164" rx="2"/><rect class="w" x="609" y="929" width="4" height="164" rx="2"/>
<text x="591" y="941.5">1<tspan x="591" dy="13.55">3</tspan><tspan x="591" dy="13.55">8</tspan><tspan x="591" dy="13.55">20</tspan><tspan x="591" dy="13.55">5</tspan><tspan x="591" dy="13.55">6</tspan><tspan x="591" dy="13.55">5</tspan><tspan x="591" dy="13.55">3</tspan><tspan x="591" dy="13.55">2</tspan><tspan x="591" dy="13.55">4</tspan><tspan x="591" dy="13.55">5</tspan><tspan x="591" dy="13.55">6</tspan></text>
<text x="615" y="941.5">2<tspan x="615" dy="13.55">3</tspan><tspan x="615" dy="13.55">1</tspan><tspan x="615" dy="13.55">15</tspan><tspan x="615" dy="13.55">5</tspan><tspan x="615" dy="13.55">3</tspan><tspan x="615" dy="13.55">5</tspan><tspan x="615" dy="13.55">6</tspan><tspan x="615" dy="13.55">3</tspan><tspan x="615" dy="13.55">6</tspan><tspan x="615" dy="13.55">2</tspan><tspan x="615" dy="13.55">3</tspan></text></g>

<g id="h2-III12"><circle class="f" cx="650" cy="888.5" r="11"/><text class="lb" x="650" y="917">III:12</text>
<rect class="w" x="645" y="929" width="4" height="164" rx="2"/><rect class="b" x="650" y="929" width="4" height="164" rx="2"/>
<text x="633" y="941.5">1<tspan x="633" dy="13.55">4</tspan><tspan x="633" dy="13.55">4</tspan><tspan x="633" dy="13.55">15</tspan><tspan x="633" dy="13.55">11</tspan><tspan x="633" dy="13.55">3</tspan><tspan x="633" dy="13.55">4</tspan><tspan x="633" dy="13.55">12</tspan><tspan x="633" dy="13.55">3</tspan><tspan x="633" dy="13.55">4</tspan><tspan x="633" dy="13.55">6</tspan><tspan x="633" dy="13.55">5</tspan></text>
<text x="657" y="941.5">2<tspan x="657" dy="13.55">3</tspan><tspan x="657" dy="13.55">9</tspan><tspan x="657" dy="13.55">6</tspan><tspan x="657" dy="13.55">5</tspan><tspan x="657" dy="13.55">4</tspan><tspan x="657" dy="13.55">1</tspan><tspan x="657" dy="13.55">8</tspan><tspan x="657" dy="13.55">4</tspan><tspan x="657" dy="13.55">5</tspan><tspan x="657" dy="13.55">8</tspan><tspan x="657" dy="13.55">5</tspan></text></g>

<g id="h2-III13"><rect class="o" x="682.5" y="878" width="21" height="21"/><text class="lb" x="693" y="917">III:13</text>
<rect class="w" x="688" y="929" width="4" height="164" rx="2"/><rect class="g" x="693" y="929" width="4" height="164" rx="2"/>
<text x="676" y="941.5">1<tspan x="676" dy="13.55">12</tspan><tspan x="676" dy="13.55">8</tspan><tspan x="676" dy="13.55">20</tspan><tspan x="676" dy="13.55">6</tspan><tspan x="676" dy="13.55">10</tspan><tspan x="676" dy="13.55">1</tspan><tspan x="676" dy="13.55">8</tspan><tspan x="676" dy="13.55">4</tspan><tspan x="676" dy="13.55">4</tspan><tspan x="676" dy="13.55">2</tspan><tspan x="676" dy="13.55">8</tspan></text>
<text x="699" y="941.5">2<tspan x="699" dy="13.55">9</tspan><tspan x="699" dy="13.55">2</tspan><tspan x="699" dy="13.55">19</tspan><tspan x="699" dy="13.55">15</tspan><tspan x="699" dy="13.55">4</tspan><tspan x="699" dy="13.55">4</tspan><tspan x="699" dy="13.55">6</tspan><tspan x="699" dy="13.55">3</tspan><tspan x="699" dy="13.55">4</tspan><tspan x="699" dy="13.55">2</tspan><tspan x="699" dy="13.55">5</tspan></text></g>

<g id="h2-III14"><circle class="o" cx="735" cy="888.5" r="11"/><text class="lb" x="735" y="917">III:14</text>
<rect class="w" x="731" y="929" width="4" height="164" rx="2"/><rect class="w" x="736" y="929" width="4" height="164" rx="2"/>
<text x="718" y="941.5">1<tspan x="718" dy="13.55">3</tspan><tspan x="718" dy="13.55">1</tspan><tspan x="718" dy="13.55">13</tspan><tspan x="718" dy="13.55">5</tspan><tspan x="718" dy="13.55">4</tspan><tspan x="718" dy="13.55">5</tspan><tspan x="718" dy="13.55">3</tspan><tspan x="718" dy="13.55">3</tspan><tspan x="718" dy="13.55">2</tspan><tspan x="718" dy="13.55">3</tspan><tspan x="718" dy="13.55">3</tspan></text>
<text x="742" y="941.5">1<tspan x="742" dy="13.55">4</tspan><tspan x="742" dy="13.55">4</tspan><tspan x="742" dy="13.55">15</tspan><tspan x="742" dy="13.55">11</tspan><tspan x="742" dy="13.55">3</tspan><tspan x="742" dy="13.55">4</tspan><tspan x="742" dy="13.55">12</tspan><tspan x="742" dy="13.55">3</tspan><tspan x="742" dy="13.55">4</tspan><tspan x="742" dy="13.55">13</tspan><tspan x="742" dy="13.55">6</tspan></text></g>

<g id="h2-III15"><rect class="o" x="777.5" y="878" width="21" height="21"/><text class="lb" x="788" y="917">III:15</text>
<rect class="d" x="785" y="929" width="4" height="164" rx="2"/><rect class="g" x="790" y="929" width="4" height="164" rx="2"/>
<text x="773" y="941.5">1<tspan x="773" dy="13.55">3</tspan><tspan x="773" dy="13.55">4</tspan><tspan x="773" dy="13.55">6</tspan><tspan x="773" dy="13.55">6</tspan><tspan x="773" dy="13.55">6</tspan><tspan x="773" dy="13.55">4</tspan><tspan x="773" dy="13.55">11</tspan><tspan x="773" dy="13.55">4</tspan><tspan x="773" dy="13.55">6</tspan><tspan x="773" dy="13.55">2</tspan><tspan x="773" dy="13.55">7</tspan></text>
<text x="796" y="941.5">1<tspan x="796" dy="13.55">3</tspan><tspan x="796" dy="13.55">1</tspan><tspan x="796" dy="13.55">15</tspan><tspan x="796" dy="13.55">5</tspan><tspan x="796" dy="13.55">5</tspan><tspan x="796" dy="13.55">3</tspan><tspan x="796" dy="13.55">7</tspan><tspan x="796" dy="13.55">3</tspan><tspan x="796" dy="13.55">4</tspan><tspan x="796" dy="13.55">6</tspan><tspan x="796" dy="13.55">2</tspan></text></g>

<g id="h2-III16"><rect class="f" x="820.5" y="878" width="21" height="21"/><text class="lb" x="831" y="917">III:16</text>
<rect class="w" x="827" y="929" width="4" height="164" rx="2"/><rect class="w" x="832" y="929" width="4" height="164" rx="2"/><rect class="b" x="832" y="1001" width="4" height="92" rx="2"/>
<text x="815" y="941.5">1<tspan x="815" dy="13.55">3</tspan><tspan x="815" dy="13.55">4</tspan><tspan x="815" dy="13.55">15</tspan><tspan x="815" dy="13.55">5</tspan><tspan x="815" dy="13.55">4</tspan><tspan x="815" dy="13.55">5</tspan><tspan x="815" dy="13.55">7</tspan><tspan x="815" dy="13.55">4</tspan><tspan x="815" dy="13.55">4</tspan><tspan x="815" dy="13.55">7</tspan><tspan x="815" dy="13.55">3</tspan></text>
<text x="839" y="941.5">1<tspan x="839" dy="13.55">3</tspan><tspan x="839" dy="13.55">4</tspan><tspan x="839" dy="13.55">6</tspan><tspan x="839" dy="13.55">6</tspan><tspan x="839" dy="13.55">4</tspan><tspan x="839" dy="13.55">1</tspan><tspan x="839" dy="13.55">8</tspan><tspan x="839" dy="13.55">4</tspan><tspan x="839" dy="13.55">5</tspan><tspan x="839" dy="13.55">8</tspan><tspan x="839" dy="13.55">5</tspan></text></g>

<g id="h2-III17"><rect class="f" x="862.5" y="878" width="21" height="21"/><text class="lb" x="873" y="917">III:17</text>
<rect class="d" x="868" y="929" width="4" height="164" rx="2"/><rect class="b" x="873" y="929" width="4" height="164" rx="2"/>
<text x="857" y="941.5">1<tspan x="857" dy="13.55">3</tspan><tspan x="857" dy="13.55">4</tspan><tspan x="857" dy="13.55">15</tspan><tspan x="857" dy="13.55">5</tspan><tspan x="857" dy="13.55">4</tspan><tspan x="857" dy="13.55">5</tspan><tspan x="857" dy="13.55">7</tspan><tspan x="857" dy="13.55">4</tspan><tspan x="857" dy="13.55">4</tspan><tspan x="857" dy="13.55">7</tspan><tspan x="857" dy="13.55">3</tspan></text>
<text x="879" y="941.5">2<tspan x="879" dy="13.55">3</tspan><tspan x="879" dy="13.55">9</tspan><tspan x="879" dy="13.55">6</tspan><tspan x="879" dy="13.55">5</tspan><tspan x="879" dy="13.55">4</tspan><tspan x="879" dy="13.55">1</tspan><tspan x="879" dy="13.55">8</tspan><tspan x="879" dy="13.55">4</tspan><tspan x="879" dy="13.55">5</tspan><tspan x="879" dy="13.55">8</tspan><tspan x="879" dy="13.55">5</tspan></text></g>

<g id="h2-III18"><circle class="o" cx="915" cy="888.5" r="11"/><text class="lb" x="915" y="917">III:18</text>
<rect class="w" x="910" y="929" width="4" height="164" rx="2"/><rect class="g" x="915" y="929" width="4" height="164" rx="2"/>
<text x="898" y="941.5">1<tspan x="898" dy="13.55">3</tspan><tspan x="898" dy="13.55">1</tspan><tspan x="898" dy="13.55">15</tspan><tspan x="898" dy="13.55">5</tspan><tspan x="898" dy="13.55">4</tspan><tspan x="898" dy="13.55">5</tspan><tspan x="898" dy="13.55">7</tspan><tspan x="898" dy="13.55">3</tspan><tspan x="898" dy="13.55">2</tspan><tspan x="898" dy="13.55">3</tspan><tspan x="898" dy="13.55">3</tspan></text>
<text x="921" y="941.5">1<tspan x="921" dy="13.55">3</tspan><tspan x="921" dy="13.55">1</tspan><tspan x="921" dy="13.55">13</tspan><tspan x="921" dy="13.55">5</tspan><tspan x="921" dy="13.55">4</tspan><tspan x="921" dy="13.55">5</tspan><tspan x="921" dy="13.55">3</tspan><tspan x="921" dy="13.55">4</tspan><tspan x="921" dy="13.55">4</tspan><tspan x="921" dy="13.55">7</tspan><tspan x="921" dy="13.55">2</tspan></text></g>

<!-- HNA-2 generation IV -->
<g id="h2-IV1"><rect class="o" x="15.5" y="1123.5" width="21" height="21"/><text class="lb" x="26" y="1175">IV:1</text>
<rect class="w" x="22" y="1181" width="4" height="162" rx="2"/><rect class="w" x="27" y="1181" width="4" height="162" rx="2"/>
<text x="10" y="1192.5">1<tspan x="10" dy="13.35">3</tspan><tspan x="10" dy="13.35">5</tspan><tspan x="10" dy="13.35">15</tspan><tspan x="10" dy="13.35">15</tspan><tspan x="10" dy="13.35">7</tspan><tspan x="10" dy="13.35">2</tspan><tspan x="10" dy="13.35">6</tspan><tspan x="10" dy="13.35">2</tspan><tspan x="10" dy="13.35">2</tspan><tspan x="10" dy="13.35">5</tspan><tspan x="10" dy="13.35">3</tspan></text>
<text x="32" y="1192.5">1<tspan x="32" dy="13.35">3</tspan><tspan x="32" dy="13.35">1</tspan><tspan x="32" dy="13.35">13</tspan><tspan x="32" dy="13.35">5</tspan><tspan x="32" dy="13.35">6</tspan><tspan x="32" dy="13.35">4</tspan><tspan x="32" dy="13.35">11</tspan><tspan x="32" dy="13.35">4</tspan><tspan x="32" dy="13.35">6</tspan><tspan x="32" dy="13.35">2</tspan><tspan x="32" dy="13.35">7</tspan></text></g>

<g id="h2-IV2"><rect class="o" x="53.5" y="1123.5" width="21" height="21"/><text class="lb" x="64" y="1175">IV:2</text>
<rect class="w" x="59" y="1181" width="4" height="162" rx="2"/><rect class="w" x="64" y="1181" width="4" height="162" rx="2"/>
<text x="44" y="1192.5">1<tspan x="44" dy="13.35">3</tspan><tspan x="44" dy="13.35">5</tspan><tspan x="44" dy="13.35">15</tspan><tspan x="44" dy="13.35">15</tspan><tspan x="44" dy="13.35">7</tspan><tspan x="44" dy="13.35">2</tspan><tspan x="44" dy="13.35">6</tspan><tspan x="44" dy="13.35">2</tspan><tspan x="44" dy="13.35">2</tspan><tspan x="44" dy="13.35">5</tspan><tspan x="44" dy="13.35">3</tspan></text>
<text x="69" y="1192.5">1<tspan x="69" dy="13.35">3</tspan><tspan x="69" dy="13.35">1</tspan><tspan x="69" dy="13.35">13</tspan><tspan x="69" dy="13.35">5</tspan><tspan x="69" dy="13.35">6</tspan><tspan x="69" dy="13.35">4</tspan><tspan x="69" dy="13.35">11</tspan><tspan x="69" dy="13.35">4</tspan><tspan x="69" dy="13.35">6</tspan><tspan x="69" dy="13.35">2</tspan><tspan x="69" dy="13.35">7</tspan></text></g>

<g id="h2-IV3"><circle class="o" cx="97" cy="1134" r="11"/><text class="lb" x="97" y="1175">IV:3</text>
<rect class="g" x="92" y="1181" width="4" height="162" rx="2"/><rect class="w" x="97" y="1181" width="4" height="162" rx="2"/>
<text x="85" y="1192.5">3<tspan x="85" dy="13.35">3</tspan><tspan x="85" dy="13.35">4</tspan><tspan x="85" dy="13.35">6</tspan><tspan x="85" dy="13.35">7</tspan><tspan x="85" dy="13.35">1</tspan><tspan x="85" dy="13.35">5</tspan><tspan x="85" dy="13.35">3</tspan><tspan x="85" dy="13.35">3</tspan><tspan x="85" dy="13.35">4</tspan><tspan x="85" dy="13.35">5</tspan><tspan x="85" dy="13.35">3</tspan></text>
<text x="102" y="1192.5">1<tspan x="102" dy="13.35">3</tspan><tspan x="102" dy="13.35">4</tspan><tspan x="102" dy="13.35">14</tspan><tspan x="102" dy="13.35">7</tspan><tspan x="102" dy="13.35">4</tspan><tspan x="102" dy="13.35">8</tspan><tspan x="102" dy="13.35">7</tspan><tspan x="102" dy="13.35">2</tspan><tspan x="102" dy="13.35">2</tspan><tspan x="102" dy="13.35">9</tspan><tspan x="102" dy="13.35">3</tspan></text></g>

<g id="h2-IV4"><circle class="o" cx="131" cy="1134" r="11"/><text class="lb" x="131" y="1175">IV:4</text>
<rect class="w" x="125" y="1181" width="4" height="162" rx="2"/><rect class="w" x="130" y="1181" width="4" height="162" rx="2"/>
<text x="118" y="1192.5">3<tspan x="118" dy="13.35">3</tspan><tspan x="118" dy="13.35">4</tspan><tspan x="118" dy="13.35">6</tspan><tspan x="118" dy="13.35">7</tspan><tspan x="118" dy="13.35">1</tspan><tspan x="118" dy="13.35">5</tspan><tspan x="118" dy="13.35">3</tspan><tspan x="118" dy="13.35">3</tspan><tspan x="118" dy="13.35">4</tspan><tspan x="118" dy="13.35">5</tspan><tspan x="118" dy="13.35">3</tspan></text>
<text x="135" y="1192.5">1<tspan x="135" dy="13.35">3</tspan><tspan x="135" dy="13.35">5</tspan><tspan x="135" dy="13.35">15</tspan><tspan x="135" dy="13.35">15</tspan><tspan x="135" dy="13.35">7</tspan><tspan x="135" dy="13.35">2</tspan><tspan x="135" dy="13.35">6</tspan><tspan x="135" dy="13.35">2</tspan><tspan x="135" dy="13.35">2</tspan><tspan x="135" dy="13.35">5</tspan><tspan x="135" dy="13.35">3</tspan></text></g>

<g id="h2-IV5"><circle class="o" cx="173" cy="1134" r="11"/><text class="lb" x="173" y="1175">IV:5</text>
<rect class="g" x="166" y="1181" width="4" height="162" rx="2"/><rect class="w" x="171" y="1181" width="4" height="162" rx="2"/>
<text x="155" y="1192.5">1<tspan x="155" dy="13.35">3</tspan><tspan x="155" dy="13.35">6</tspan><tspan x="155" dy="13.35">6</tspan><tspan x="155" dy="13.35">13</tspan><tspan x="155" dy="13.35">1</tspan><tspan x="155" dy="13.35">6</tspan><tspan x="155" dy="13.35">9</tspan><tspan x="155" dy="13.35">3</tspan><tspan x="155" dy="13.35">2</tspan><tspan x="155" dy="13.35">12</tspan><tspan x="155" dy="13.35">7</tspan></text>
<text x="177" y="1192.5">3<tspan x="177" dy="13.35">3</tspan><tspan x="177" dy="13.35">4</tspan><tspan x="177" dy="13.35">6</tspan><tspan x="177" dy="13.35">7</tspan><tspan x="177" dy="13.35">1</tspan><tspan x="177" dy="13.35">5</tspan><tspan x="177" dy="13.35">3</tspan><tspan x="177" dy="13.35">3</tspan><tspan x="177" dy="13.35">6</tspan><tspan x="177" dy="13.35">2</tspan><tspan x="177" dy="13.35">7</tspan></text></g>

<g id="h2-IV6"><circle class="o" cx="203" cy="1134" r="11"/><text class="lb" x="203" y="1175">IV:6</text>
<rect class="w" x="192" y="1181" width="4" height="162" rx="2"/><rect class="w" x="197" y="1181" width="4" height="162" rx="2"/>
<text x="186" y="1192.5">3<tspan x="186" dy="13.35">3</tspan><tspan x="186" dy="13.35">4</tspan><tspan x="186" dy="13.35">6</tspan><tspan x="186" dy="13.35">7</tspan><tspan x="186" dy="13.35">1</tspan><tspan x="186" dy="13.35">5</tspan><tspan x="186" dy="13.35">3</tspan><tspan x="186" dy="13.35">3</tspan><tspan x="186" dy="13.35">4</tspan><tspan x="186" dy="13.35">5</tspan><tspan x="186" dy="13.35">3</tspan></text>
<text x="202" y="1192.5">3<tspan x="202" dy="13.35">11</tspan><tspan x="202" dy="13.35">8</tspan><tspan x="202" dy="13.35">6</tspan><tspan x="202" dy="13.35">3</tspan><tspan x="202" dy="13.35">7</tspan><tspan x="202" dy="13.35">1</tspan><tspan x="202" dy="13.35">6</tspan><tspan x="202" dy="13.35">3</tspan><tspan x="202" dy="13.35">4</tspan><tspan x="202" dy="13.35">4</tspan><tspan x="202" dy="13.35">3</tspan></text></g>

<g id="h2-IV7"><circle class="f" cx="242" cy="1134" r="11"/><text class="lb" x="242" y="1175">IV:7</text>
<rect class="g" x="233" y="1181" width="4" height="162" rx="2"/><rect class="d" x="238" y="1181" width="4" height="162" rx="2"/><rect class="b" x="238" y="1181" width="4" height="118" rx="2"/>
<text x="216" y="1192.5">1<tspan x="216" dy="13.35">3</tspan><tspan x="216" dy="13.35">6</tspan><tspan x="216" dy="13.35">6</tspan><tspan x="216" dy="13.35">13</tspan><tspan x="216" dy="13.35">1</tspan><tspan x="216" dy="13.35">6</tspan><tspan x="216" dy="13.35">9</tspan><tspan x="216" dy="13.35">3</tspan><tspan x="216" dy="13.35">2</tspan><tspan x="216" dy="13.35">12</tspan><tspan x="216" dy="13.35">7</tspan></text>
<text x="245" y="1192.5">2<tspan x="245" dy="13.35">3</tspan><tspan x="245" dy="13.35">9</tspan><tspan x="245" dy="13.35">6</tspan><tspan x="245" dy="13.35">5</tspan><tspan x="245" dy="13.35">4</tspan><tspan x="245" dy="13.35">1</tspan><tspan x="245" dy="13.35">8</tspan><tspan x="245" dy="13.35">4</tspan><tspan x="245" dy="13.35">6</tspan><tspan x="245" dy="13.35">2</tspan><tspan x="245" dy="13.35">7</tspan></text></g>

<g id="h2-IV8"><rect class="f" x="268.5" y="1123.5" width="21" height="21"/><text class="lb" x="279" y="1175">IV:8</text>
<rect class="g" x="275" y="1181" width="4" height="162" rx="2"/><rect class="b" x="280" y="1181" width="4" height="162" rx="2"/>
<text x="266" y="1192.5">1<tspan x="266" dy="13.35">9</tspan><tspan x="266" dy="13.35">4</tspan><tspan x="266" dy="13.35">6</tspan><tspan x="266" dy="13.35">6</tspan><tspan x="266" dy="13.35">3</tspan><tspan x="266" dy="13.35">5</tspan><tspan x="266" dy="13.35">5</tspan><tspan x="266" dy="13.35">3</tspan><tspan x="266" dy="13.35">4</tspan><tspan x="266" dy="13.35">2</tspan><tspan x="266" dy="13.35">5</tspan></text>
<text x="285" y="1192.5">2<tspan x="285" dy="13.35">3</tspan><tspan x="285" dy="13.35">9</tspan><tspan x="285" dy="13.35">6</tspan><tspan x="285" dy="13.35">5</tspan><tspan x="285" dy="13.35">4</tspan><tspan x="285" dy="13.35">1</tspan><tspan x="285" dy="13.35">8</tspan><tspan x="285" dy="13.35">4</tspan><tspan x="285" dy="13.35">5</tspan><tspan x="285" dy="13.35">8</tspan><tspan x="285" dy="13.35">5</tspan></text></g>

<g id="h2-IV9"><rect class="o" x="298.5" y="1123.5" width="21" height="21"/><circle cx="309" cy="1134" r="1.6"/><text class="lb" x="310" y="1175">IV:9</text>
<rect class="w" x="306" y="1181" width="4" height="162" rx="2"/><rect class="w" x="311" y="1181" width="4" height="162" rx="2"/>
<text x="297" y="1192.5">1<tspan x="297" dy="13.35">9</tspan><tspan x="297" dy="13.35">4</tspan><tspan x="297" dy="13.35">6</tspan><tspan x="297" dy="13.35">6</tspan><tspan x="297" dy="13.35">3</tspan><tspan x="297" dy="13.35">5</tspan><tspan x="297" dy="13.35">-</tspan><tspan x="297" dy="13.35">3</tspan><tspan x="297" dy="13.35">4</tspan><tspan x="297" dy="13.35">2</tspan><tspan x="297" dy="13.35">5</tspan></text>
<text x="317" y="1192.5">2<tspan x="317" dy="13.35">3</tspan><tspan x="317" dy="13.35">9</tspan><tspan x="317" dy="13.35">6</tspan><tspan x="317" dy="13.35">5</tspan><tspan x="317" dy="13.35">4</tspan><tspan x="317" dy="13.35">1</tspan><tspan x="317" dy="13.35">-</tspan><tspan x="317" dy="13.35">4</tspan><tspan x="317" dy="13.35">5</tspan><tspan x="317" dy="13.35">8</tspan><tspan x="317" dy="13.35">5</tspan></text></g>

<g id="h2-IV10"><rect class="o" x="330.5" y="1123.5" width="21" height="21"/><text class="lb" x="341" y="1175">IV:10</text>
<rect class="w" x="337" y="1181" width="4" height="162" rx="2"/><rect class="w" x="342" y="1181" width="4" height="162" rx="2"/>
<text x="327" y="1192.5">1<tspan x="327" dy="13.35">9</tspan><tspan x="327" dy="13.35">4</tspan><tspan x="327" dy="13.35">6</tspan><tspan x="327" dy="13.35">6</tspan><tspan x="327" dy="13.35">3</tspan><tspan x="327" dy="13.35">5</tspan><tspan x="327" dy="13.35">5</tspan><tspan x="327" dy="13.35">3</tspan><tspan x="327" dy="13.35">4</tspan><tspan x="327" dy="13.35">2</tspan><tspan x="327" dy="13.35">5</tspan></text>
<text x="348" y="1192.5">3<tspan x="348" dy="13.35">3</tspan><tspan x="348" dy="13.35">4</tspan><tspan x="348" dy="13.35">6</tspan><tspan x="348" dy="13.35">7</tspan><tspan x="348" dy="13.35">1</tspan><tspan x="348" dy="13.35">5</tspan><tspan x="348" dy="13.35">3</tspan><tspan x="348" dy="13.35">3</tspan><tspan x="348" dy="13.35">4</tspan><tspan x="348" dy="13.35">5</tspan><tspan x="348" dy="13.35">3</tspan></text></g>

<g id="h2-IV11"><circle class="o" cx="373" cy="1134" r="11"/><text class="lb" x="373" y="1175">IV:11</text>
<rect class="w" x="366" y="1181" width="4" height="162" rx="2"/><rect class="w" x="371" y="1181" width="4" height="162" rx="2"/>
<text x="358" y="1192.5">1<tspan x="358" dy="13.35">9</tspan><tspan x="358" dy="13.35">4</tspan><tspan x="358" dy="13.35">6</tspan><tspan x="358" dy="13.35">6</tspan><tspan x="358" dy="13.35">3</tspan><tspan x="358" dy="13.35">5</tspan><tspan x="358" dy="13.35">5</tspan><tspan x="358" dy="13.35">3</tspan><tspan x="358" dy="13.35">4</tspan><tspan x="358" dy="13.35">2</tspan><tspan x="358" dy="13.35">5</tspan></text>
<text x="377" y="1192.5">3<tspan x="377" dy="13.35">3</tspan><tspan x="377" dy="13.35">4</tspan><tspan x="377" dy="13.35">6</tspan><tspan x="377" dy="13.35">7</tspan><tspan x="377" dy="13.35">1</tspan><tspan x="377" dy="13.35">5</tspan><tspan x="377" dy="13.35">3</tspan><tspan x="377" dy="13.35">3</tspan><tspan x="377" dy="13.35">4</tspan><tspan x="377" dy="13.35">5</tspan><tspan x="377" dy="13.35">3</tspan></text></g>

<g id="h2-IV12"><circle class="f" cx="408" cy="1134" r="11"/><text class="lb" x="408" y="1175">IV:12</text>
<rect class="d" x="404" y="1181" width="4" height="162" rx="2"/><rect class="b" x="409" y="1181" width="4" height="162" rx="2"/>
<text x="391" y="1192.5">1<tspan x="391" dy="13.35">4</tspan><tspan x="391" dy="13.35">6</tspan><tspan x="391" dy="13.35">14</tspan><tspan x="391" dy="13.35">6</tspan><tspan x="391" dy="13.35">7</tspan><tspan x="391" dy="13.35">2</tspan><tspan x="391" dy="13.35">10</tspan><tspan x="391" dy="13.35">2</tspan><tspan x="391" dy="13.35">4</tspan><tspan x="391" dy="13.35">13</tspan><tspan x="391" dy="13.35">3</tspan></text>
<text x="415" y="1192.5">2<tspan x="415" dy="13.35">3</tspan><tspan x="415" dy="13.35">9</tspan><tspan x="415" dy="13.35">6</tspan><tspan x="415" dy="13.35">5</tspan><tspan x="415" dy="13.35">4</tspan><tspan x="415" dy="13.35">1</tspan><tspan x="415" dy="13.35">8</tspan><tspan x="415" dy="13.35">4</tspan><tspan x="415" dy="13.35">5</tspan><tspan x="415" dy="13.35">8</tspan><tspan x="415" dy="13.35">5</tspan></text></g>

<g id="h2-IV13"><rect class="o" x="441.5" y="1123.5" width="21" height="21"/><text class="lb" x="451" y="1175">IV:13</text>
<rect class="d" x="447" y="1181" width="4" height="162" rx="2"/><rect class="w" x="452" y="1181" width="4" height="162" rx="2"/>
<text x="434" y="1192.5">1<tspan x="434" dy="13.35">4</tspan><tspan x="434" dy="13.35">5</tspan><tspan x="434" dy="13.35">15</tspan><tspan x="434" dy="13.35">14</tspan><tspan x="434" dy="13.35">4</tspan><tspan x="434" dy="13.35">4</tspan><tspan x="434" dy="13.35">7</tspan><tspan x="434" dy="13.35">3</tspan><tspan x="434" dy="13.35">2</tspan><tspan x="434" dy="13.35">6</tspan><tspan x="434" dy="13.35">5</tspan></text>
<text x="457" y="1192.5">1<tspan x="457" dy="13.35">3</tspan><tspan x="457" dy="13.35">4</tspan><tspan x="457" dy="13.35">6</tspan><tspan x="457" dy="13.35">6</tspan><tspan x="457" dy="13.35">2</tspan><tspan x="457" dy="13.35">3</tspan><tspan x="457" dy="13.35">11</tspan><tspan x="457" dy="13.35">4</tspan><tspan x="457" dy="13.35">2</tspan><tspan x="457" dy="13.35">3</tspan><tspan x="457" dy="13.35">2</tspan></text></g>

<g id="h2-IV14"><circle class="o" cx="486" cy="1134" r="11"/><circle cx="486" cy="1134" r="1.6"/><text class="lb" x="481" y="1175">IV:14</text>
<rect class="w" x="483" y="1181" width="4" height="162" rx="2"/><rect class="b" x="488" y="1181" width="4" height="162" rx="2"/>
<text x="470" y="1192.5">1<tspan x="470" dy="13.35">3</tspan><tspan x="470" dy="13.35">4</tspan><tspan x="470" dy="13.35">6</tspan><tspan x="470" dy="13.35">6</tspan><tspan x="470" dy="13.35">2</tspan><tspan x="470" dy="13.35">3</tspan><tspan x="470" dy="13.35">11</tspan><tspan x="470" dy="13.35">4</tspan><tspan x="470" dy="13.35">2</tspan><tspan x="470" dy="13.35">3</tspan><tspan x="470" dy="13.35">2</tspan></text>
<text x="494" y="1192.5">2<tspan x="494" dy="13.35">3</tspan><tspan x="494" dy="13.35">9</tspan><tspan x="494" dy="13.35">6</tspan><tspan x="494" dy="13.35">5</tspan><tspan x="494" dy="13.35">4</tspan><tspan x="494" dy="13.35">1</tspan><tspan x="494" dy="13.35">8</tspan><tspan x="494" dy="13.35">4</tspan><tspan x="494" dy="13.35">5</tspan><tspan x="494" dy="13.35">8</tspan><tspan x="494" dy="13.35">5</tspan></text></g>

<g id="h2-IV15"><rect class="o" x="597.5" y="1123.5" width="21" height="21"/><text class="lb" x="608" y="1175">IV:15</text>
<rect class="w" x="603" y="1181" width="4" height="162" rx="2"/><rect class="w" x="608" y="1181" width="4" height="162" rx="2"/>
<text x="590" y="1192.5">1<tspan x="590" dy="13.35">4</tspan><tspan x="590" dy="13.35">4</tspan><tspan x="590" dy="13.35">15</tspan><tspan x="590" dy="13.35">11</tspan><tspan x="590" dy="13.35">3</tspan><tspan x="590" dy="13.35">4</tspan><tspan x="590" dy="13.35">12</tspan><tspan x="590" dy="13.35">3</tspan><tspan x="590" dy="13.35">4</tspan><tspan x="590" dy="13.35">6</tspan><tspan x="590" dy="13.35">5</tspan></text>
<text x="614" y="1192.5">1<tspan x="614" dy="13.35">3</tspan><tspan x="614" dy="13.35">8</tspan><tspan x="614" dy="13.35">20</tspan><tspan x="614" dy="13.35">5</tspan><tspan x="614" dy="13.35">6</tspan><tspan x="614" dy="13.35">5</tspan><tspan x="614" dy="13.35">3</tspan><tspan x="614" dy="13.35">2</tspan><tspan x="614" dy="13.35">4</tspan><tspan x="614" dy="13.35">5</tspan><tspan x="614" dy="13.35">6</tspan></text></g>

<g id="h2-IV16"><circle class="o" cx="651" cy="1134" r="11"/><text class="lb" x="651" y="1175">IV:16</text>
<rect class="d" x="646" y="1181" width="4" height="162" rx="2"/><rect class="g" x="651" y="1181" width="4" height="162" rx="2"/>
<text x="633" y="1192.5">1<tspan x="633" dy="13.35">4</tspan><tspan x="633" dy="13.35">4</tspan><tspan x="633" dy="13.35">15</tspan><tspan x="633" dy="13.35">11</tspan><tspan x="633" dy="13.35">3</tspan><tspan x="633" dy="13.35">4</tspan><tspan x="633" dy="13.35">12</tspan><tspan x="633" dy="13.35">3</tspan><tspan x="633" dy="13.35">4</tspan><tspan x="633" dy="13.35">6</tspan><tspan x="633" dy="13.35">5</tspan></text>
<text x="657" y="1192.5">2<tspan x="657" dy="13.35">3</tspan><tspan x="657" dy="13.35">1</tspan><tspan x="657" dy="13.35">15</tspan><tspan x="657" dy="13.35">5</tspan><tspan x="657" dy="13.35">3</tspan><tspan x="657" dy="13.35">5</tspan><tspan x="657" dy="13.35">6</tspan><tspan x="657" dy="13.35">3</tspan><tspan x="657" dy="13.35">6</tspan><tspan x="657" dy="13.35">2</tspan><tspan x="657" dy="13.35">3</tspan></text></g>

<g id="h2-IV17"><circle class="o" cx="693" cy="1134" r="11"/><text class="lb" x="693" y="1175">IV:17</text>
<rect class="g" x="688" y="1181" width="4" height="162" rx="2"/><rect class="w" x="693" y="1181" width="4" height="162" rx="2"/>
<text x="675" y="1192.5">2<tspan x="675" dy="13.35">9</tspan><tspan x="675" dy="13.35">2</tspan><tspan x="675" dy="13.35">19</tspan><tspan x="675" dy="13.35">15</tspan><tspan x="675" dy="13.35">4</tspan><tspan x="675" dy="13.35">4</tspan><tspan x="675" dy="13.35">8</tspan><tspan x="675" dy="13.35">4</tspan><tspan x="675" dy="13.35">4</tspan><tspan x="675" dy="13.35">2</tspan><tspan x="675" dy="13.35">8</tspan></text>
<text x="698" y="1192.5">1<tspan x="698" dy="13.35">4</tspan><tspan x="698" dy="13.35">4</tspan><tspan x="698" dy="13.35">15</tspan><tspan x="698" dy="13.35">11</tspan><tspan x="698" dy="13.35">3</tspan><tspan x="698" dy="13.35">4</tspan><tspan x="698" dy="13.35">12</tspan><tspan x="698" dy="13.35">3</tspan><tspan x="698" dy="13.35">4</tspan><tspan x="698" dy="13.35">13</tspan><tspan x="698" dy="13.35">6</tspan></text></g>

<g id="h2-IV18"><circle class="o" cx="737" cy="1134" r="11"/><text class="lb" x="737" y="1175">IV:18</text>
<rect class="w" x="730" y="1181" width="4" height="162" rx="2"/><rect class="w" x="735" y="1181" width="4" height="162" rx="2"/>
<text x="718" y="1192.5">1<tspan x="718" dy="13.35">12</tspan><tspan x="718" dy="13.35">8</tspan><tspan x="718" dy="13.35">20</tspan><tspan x="718" dy="13.35">6</tspan><tspan x="718" dy="13.35">10</tspan><tspan x="718" dy="13.35">1</tspan><tspan x="718" dy="13.35">8</tspan><tspan x="718" dy="13.35">4</tspan><tspan x="718" dy="13.35">4</tspan><tspan x="718" dy="13.35">2</tspan><tspan x="718" dy="13.35">8</tspan></text>
<text x="740" y="1192.5">1<tspan x="740" dy="13.35">3</tspan><tspan x="740" dy="13.35">1</tspan><tspan x="740" dy="13.35">13</tspan><tspan x="740" dy="13.35">5</tspan><tspan x="740" dy="13.35">4</tspan><tspan x="740" dy="13.35">5</tspan><tspan x="740" dy="13.35">3</tspan><tspan x="740" dy="13.35">3</tspan><tspan x="740" dy="13.35">4</tspan><tspan x="740" dy="13.35">13</tspan><tspan x="740" dy="13.35">6</tspan></text></g>

<g id="h2-IV19"><circle class="f" cx="858" cy="1134" r="11"/><text class="lb" x="858" y="1175">IV:19</text>
<rect class="d" x="854" y="1181" width="4" height="162" rx="2"/><rect class="b" x="859" y="1181" width="4" height="162" rx="2"/>
<text x="842" y="1192.5">1<tspan x="842" dy="13.35">3</tspan><tspan x="842" dy="13.35">1</tspan><tspan x="842" dy="13.35">15</tspan><tspan x="842" dy="13.35">5</tspan><tspan x="842" dy="13.35">4</tspan><tspan x="842" dy="13.35">5</tspan><tspan x="842" dy="13.35">3</tspan><tspan x="842" dy="13.35">4</tspan><tspan x="842" dy="13.35">4</tspan><tspan x="842" dy="13.35">7</tspan><tspan x="842" dy="13.35">3</tspan></text>
<text x="865" y="1192.5">2<tspan x="865" dy="13.35">3</tspan><tspan x="865" dy="13.35">9</tspan><tspan x="865" dy="13.35">6</tspan><tspan x="865" dy="13.35">5</tspan><tspan x="865" dy="13.35">4</tspan><tspan x="865" dy="13.35">1</tspan><tspan x="865" dy="13.35">8</tspan><tspan x="865" dy="13.35">4</tspan><tspan x="865" dy="13.35">5</tspan><tspan x="865" dy="13.35">8</tspan><tspan x="865" dy="13.35">5</tspan></text></g>

<g id="h2-IV20"><rect class="f" x="883.5" y="1123.5" width="21" height="21"/><text class="lb" x="896" y="1175">IV:20</text>
<rect class="g" x="889" y="1181" width="4" height="162" rx="2"/><rect class="b" x="894" y="1181" width="4" height="162" rx="2"/>
<text x="875" y="1192.5">1<tspan x="875" dy="13.35">3</tspan><tspan x="875" dy="13.35">1</tspan><tspan x="875" dy="13.35">13</tspan><tspan x="875" dy="13.35">5</tspan><tspan x="875" dy="13.35">4</tspan><tspan x="875" dy="13.35">5</tspan><tspan x="875" dy="13.35">-</tspan><tspan x="875" dy="13.35">3</tspan><tspan x="875" dy="13.35">2</tspan><tspan x="875" dy="13.35">3</tspan><tspan x="875" dy="13.35">3</tspan></text>
<text x="901" y="1192.5">2<tspan x="901" dy="13.35">3</tspan><tspan x="901" dy="13.35">9</tspan><tspan x="901" dy="13.35">6</tspan><tspan x="901" dy="13.35">5</tspan><tspan x="901" dy="13.35">4</tspan><tspan x="901" dy="13.35">1</tspan><tspan x="901" dy="13.35">-</tspan><tspan x="901" dy="13.35">4</tspan><tspan x="901" dy="13.35">5</tspan><tspan x="901" dy="13.35">8</tspan><tspan x="901" dy="13.35">5</tspan></text></g>

<g id="h2-IV21"><circle class="o" cx="930" cy="1134" r="11"/><text class="lb" x="932" y="1175">IV:21</text>
<rect class="g" x="923" y="1181" width="4" height="162" rx="2"/><rect class="w" x="928" y="1181" width="4" height="162" rx="2"/>
<text x="910" y="1192.5">1<tspan x="910" dy="13.35">3</tspan><tspan x="910" dy="13.35">1</tspan><tspan x="910" dy="13.35">13</tspan><tspan x="910" dy="13.35">5</tspan><tspan x="910" dy="13.35">4</tspan><tspan x="910" dy="13.35">5</tspan><tspan x="910" dy="13.35">3</tspan><tspan x="910" dy="13.35">3</tspan><tspan x="910" dy="13.35">2</tspan><tspan x="910" dy="13.35">3</tspan><tspan x="910" dy="13.35">3</tspan></text>
<text x="934" y="1192.5">1<tspan x="934" dy="13.35">3</tspan><tspan x="934" dy="13.35">4</tspan><tspan x="934" dy="13.35">15</tspan><tspan x="934" dy="13.35">5</tspan><tspan x="934" dy="13.35">4</tspan><tspan x="934" dy="13.35">5</tspan><tspan x="934" dy="13.35">7</tspan><tspan x="934" dy="13.35">4</tspan><tspan x="934" dy="13.35">4</tspan><tspan x="934" dy="13.35">7</tspan><tspan x="934" dy="13.35">3</tspan></text></g>
</svg>
